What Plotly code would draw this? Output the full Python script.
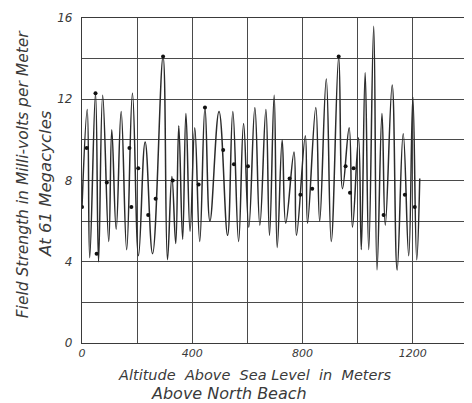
import plotly.graph_objects as go

# Altitude (m) at successive peaks/troughs of the recorded field strength curve
altitude = [0, 19, 28, 49, 60, 75, 97, 108, 124, 142, 162, 183, 205, 229, 256, 294, 310, 326,
            340, 351, 365, 377, 392, 409, 427, 446, 464, 497, 528, 547, 568, 586, 605, 627,
            645, 667, 680, 697, 708, 726, 739, 769, 778, 810, 818, 848, 862, 886, 904, 931,
            945, 969, 981, 1003, 1013, 1027, 1040, 1058, 1070, 1088, 1100, 1125, 1143, 1165,
            1185, 1200, 1214, 1225]
field = [6.7, 11.5, 4.2, 12.3, 4.0, 12.2, 5.0, 10.5, 5.6, 11.4, 4.6, 12.3, 4.3, 9.9, 4.4, 14.1,
         4.1, 8.2, 4.9, 10.7, 5.1, 11.3, 5.5, 10.6, 5.0, 11.6, 6.0, 11.4, 5.3, 11.4, 5.0, 10.8,
         5.7, 11.6, 5.8, 11.5, 5.3, 12.2, 4.7, 10.0, 5.9, 9.4, 5.3, 10.2, 5.9, 11.6, 6.0, 13.0,
         5.0, 14.1, 7.6, 10.6, 5.7, 10.1, 4.6, 13.3, 4.6, 15.6, 3.6, 11.3, 5.8, 12.7, 3.6, 10.3,
         4.3, 12.1, 4.1, 8.1]

# Measured points marked with dots
dot_alt = [0, 17, 49, 53, 90, 172, 179, 204, 240, 267, 294, 329, 423, 446, 512, 551, 602,
           753, 792, 835, 931, 956, 972, 985, 1094, 1171, 1207]
dot_val = [6.7, 9.6, 12.3, 4.4, 7.9, 9.6, 6.7, 8.6, 6.3, 7.1, 14.1, 8.0, 7.8, 11.6, 9.5, 8.8,
           8.7, 8.1, 7.3, 7.6, 14.1, 8.7, 7.4, 8.6, 6.3, 7.3, 6.7]

x_ticks = [0, 200, 400, 600, 800, 1000, 1200, 1400]
x_labels = ["0", "", "400", "", "800", "", "1200", ""]
y_ticks = [0, 2, 4, 6, 8, 10, 12, 14, 16]
y_labels = ["0", "", "4", "", "8", "", "12", "", "16"]

ink = "#2b2b2b"
font = dict(family="DejaVu Sans", style="italic", color="#3a3a3a")

fig = go.Figure()
fig.add_trace(go.Scatter(x=altitude, y=field, mode="lines",
                         line=dict(color=ink, width=1.5, shape="spline", smoothing=1.2),
                         hoverinfo="skip"))
fig.add_trace(go.Scatter(x=dot_alt, y=dot_val, mode="markers",
                         marker=dict(color="#111111", size=4), hoverinfo="skip"))

fig.update_layout(
    width=464, height=395,
    margin=dict(l=74, r=3, t=7, b=60),
    paper_bgcolor="white", plot_bgcolor="white",
    showlegend=False,
    font=dict(**font, size=11),
    xaxis=dict(range=[0, 1400], tickvals=x_ticks, ticktext=x_labels,
               showgrid=True, gridcolor="#4a4a4a", gridwidth=1,
               showline=True, linecolor="#3a3a3a", linewidth=1.2, mirror=True,
               zeroline=False, ticks="", tickfont=dict(**font, size=11)),
    yaxis=dict(range=[0, 16], tickvals=y_ticks, ticktext=y_labels,
               showgrid=True, gridcolor="#4a4a4a", gridwidth=1,
               showline=True, linecolor="#3a3a3a", linewidth=1.2, mirror=True,
               zeroline=False, ticks="", tickfont=dict(**font, size=12),
               ticklabelstandoff=6),
)

fig.add_annotation(text="Field Strength in Milli-volts per Meter", xref="paper", yref="paper",
                   x=-0.152, y=0.52, textangle=-90, showarrow=False,
                   font=dict(**font, size=15.5), xanchor="center", yanchor="middle")
fig.add_annotation(text="At 61 Megacycles", xref="paper", yref="paper",
                   x=-0.095, y=0.49, textangle=-90, showarrow=False,
                   font=dict(**font, size=16.5), xanchor="center", yanchor="middle")
fig.add_annotation(text="Altitude  Above  Sea Level  in  Meters", xref="paper", yref="paper",
                   x=0.447, y=-0.098, showarrow=False,
                   font=dict(**font, size=14.5), xanchor="center", yanchor="middle")
fig.add_annotation(text="Above North Beach", xref="paper", yref="paper",
                   x=0.38, y=-0.155, showarrow=False,
                   font=dict(**font, size=16), xanchor="center", yanchor="middle")

fig.write_html("out.html")
